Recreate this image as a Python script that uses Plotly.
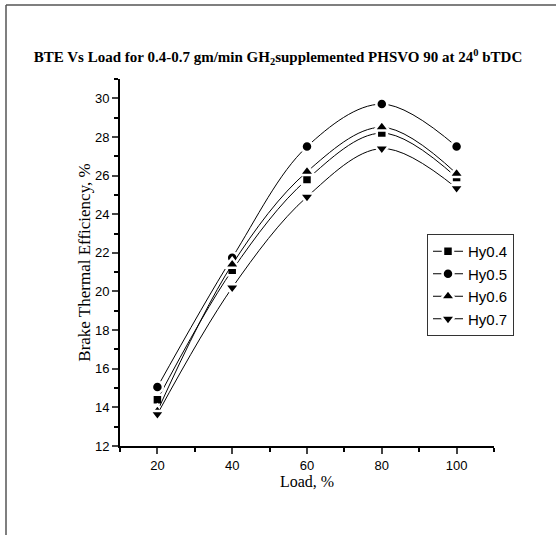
import plotly.graph_objects as go

load = [20, 40, 60, 80, 100]
hy04 = [14.4, 21.1, 25.8, 28.2, 25.9]
hy05 = [15.05, 21.75, 27.5, 29.7, 27.5]
hy06 = [13.8, 21.4, 26.2, 28.5, 26.1]
hy07 = [13.65, 20.2, 24.9, 27.4, 25.35]

series = [
    ("Hy0.4", hy04, "square", 10),
    ("Hy0.5", hy05, "circle", 11),
    ("Hy0.6", hy06, "triangle-up", 13),
    ("Hy0.7", hy07, "triangle-down", 13),
]

fig = go.Figure()
for name, vals, sym, sz in series:
    fig.add_trace(go.Scatter(
        x=load, y=vals, name=name, mode="lines+markers",
        line=dict(color="black", width=1, shape="spline"),
        marker=dict(symbol=sym, size=sz, color="black",
                    line=dict(color="white", width=2.5)),
    ))

L, R, T, B = 120, 62, 79, 89
W, H = 556, 535
pw, ph = W - L - R, H - T - B

def px(x):
    return (x - L) / pw

def py(y):
    return (H - B - y) / ph

fig.add_shape(type="line", xref="paper", yref="paper",
              x0=px(6), y0=py(535), x1=px(6), y1=py(5),
              line=dict(color="#555", width=1.5))
fig.add_shape(type="line", xref="paper", yref="paper",
              x0=px(6), y0=py(5), x1=px(556), y1=py(5),
              line=dict(color="#555", width=1.5))

fig.update_layout(
    width=W, height=H,
    margin=dict(l=L, r=R, t=T, b=B),
    paper_bgcolor="white", plot_bgcolor="white",
    title=dict(
        text="BTE Vs Load for 0.4-0.7 gm/min GH<sub>2</sub>supplemented PHSVO 90 at 24<sup>0</sup> bTDC",
        x=0.5, xanchor="center", y=1 - 57 / H, yanchor="middle",
        font=dict(family="Liberation Serif", size=15, color="black", weight="bold"),
    ),
    xaxis=dict(
        range=[10, 110], tick0=0, dtick=20, ticks="outside", ticklen=6, tickwidth=2,
        showline=True, linecolor="black", linewidth=2, showgrid=False, zeroline=False,
        minor=dict(dtick=10, tick0=0, ticks="outside", ticklen=4, tickwidth=2, tickcolor="black"),
        tickfont=dict(family="Liberation Sans", size=13, color="black"),
        title=dict(text="Load, %", font=dict(family="Liberation Serif", size=16, color="black"), standoff=4),
    ),
    yaxis=dict(
        range=[12, 31], tick0=0, dtick=2, ticks="outside", ticklen=6, tickwidth=2,
        showline=True, linecolor="black", linewidth=2, showgrid=False, zeroline=False,
        minor=dict(dtick=1, tick0=0, ticks="outside", ticklen=4, tickwidth=2, tickcolor="black"),
        tickfont=dict(family="Liberation Sans", size=13, color="black"),
        title=dict(text="Brake Thermal Efficiency, %", font=dict(family="Liberation Serif", size=17, color="black"), standoff=0),
    ),
    legend=dict(
        x=px(427), y=py(234), xanchor="left", yanchor="top",
        bordercolor="#333", borderwidth=1, bgcolor="white",
        font=dict(family="Liberation Sans", size=15, color="black"),
        tracegroupgap=0, itemwidth=30,
    ),
)

fig.write_html("out.html", config={"displayModeBar": False},
               post_script="document.body.style.margin='0';")
